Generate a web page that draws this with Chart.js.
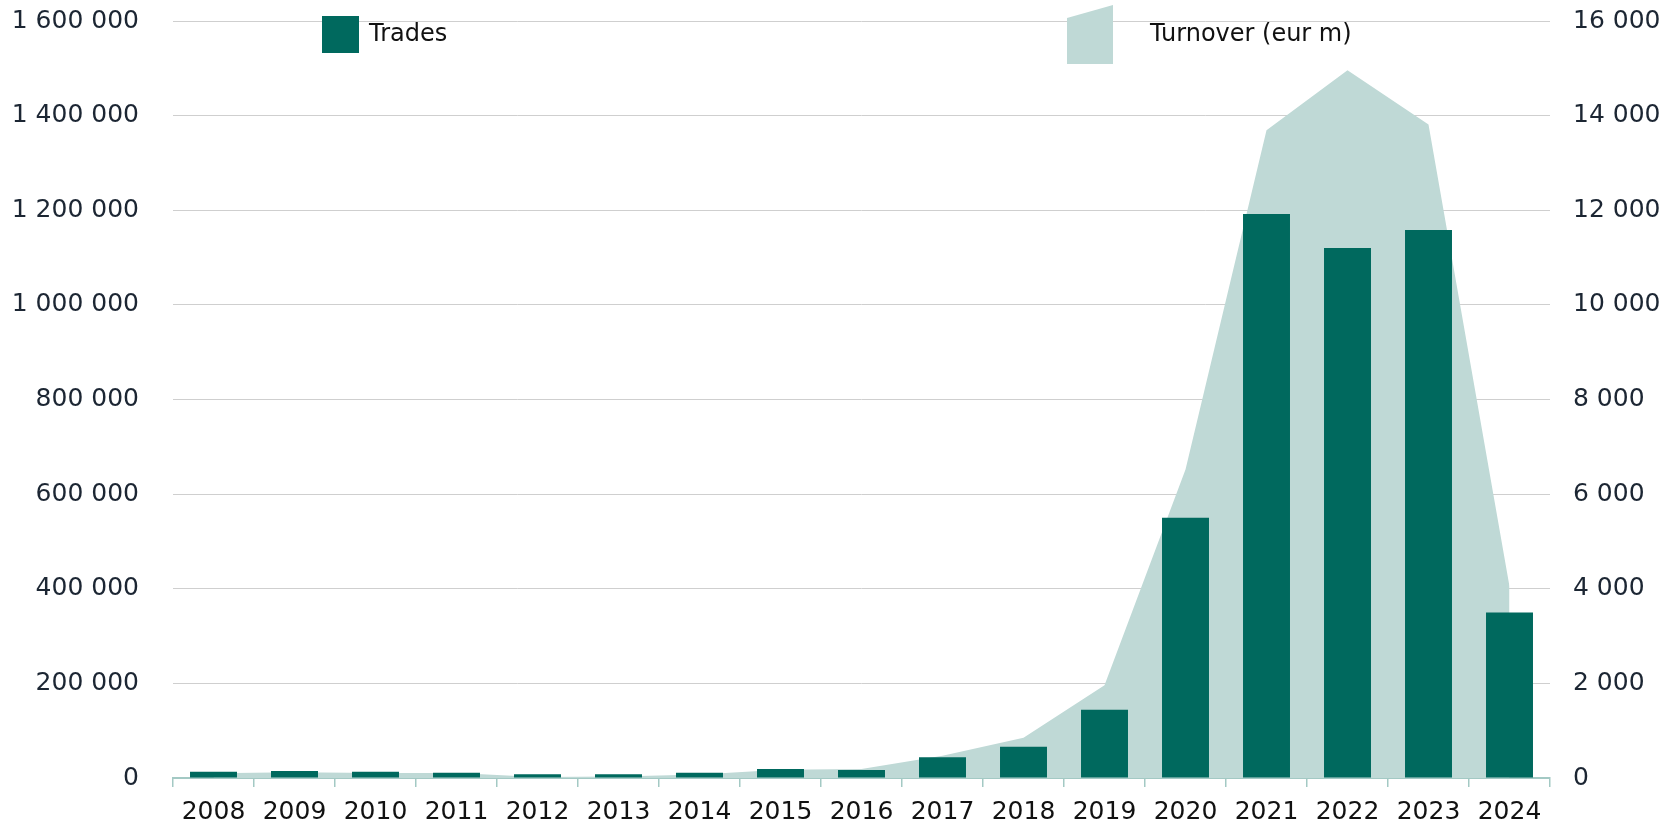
<!DOCTYPE html>
<html>
<head>
<meta charset="utf-8">
<script src="https://cdn.jsdelivr.net/npm/chart.js@4"></script>
<style>
  html, body { margin: 0; padding: 0; background: #ffffff; }
  #wrap { width: 1667px; height: 823px; position: relative; }
</style>
</head>
<body>
<div id="wrap"><canvas id="c" width="1667" height="823"></canvas></div>
<script>
const years = ['2008','2009','2010','2011','2012','2013','2014','2015','2016','2017','2018','2019','2020','2021','2022','2023','2024'];
const trades = [13000, 15000, 13000, 11000, 8000, 8000, 11000, 19000, 17000, 44000, 66000, 144000, 550000, 1192000, 1120000, 1158000, 350000];
const turnover = [100, 120, 105, 105, 20, 30, 75, 175, 190, 470, 850, 1960, 6520, 13690, 14960, 13810, 4050];
const leftTicks = [0, 200000, 400000, 600000, 800000, 1000000, 1200000, 1400000, 1600000];
const rightTicks = [0, 2000, 4000, 6000, 8000, 10000, 12000, 14000, 16000];
const legendLabels = ['Trades', 'Turnover (eur m)'];

const BAR = '#00695e';
const AREA = '#bfd9d6';
const AXIS = '#a3c9c4';
const GRID = '#cfcfcf';
const TEXT = '#1c2633';
const FONT = 'DejaVu Sans';
const FSIZE = 25;

function fmt(v) {
  return String(v).replace(/\B(?=(\d{3})+(?!\d))/g, ' ');
}

const legendPlugin = {
  id: 'customLegend',
  afterDraw(chart) {
    const ctx = chart.ctx;
    ctx.save();
    ctx.fillStyle = BAR;
    ctx.fillRect(322, 16, 37, 37);
    ctx.fillStyle = '#111111';
    ctx.font = '24px "' + FONT + '"';
    ctx.textBaseline = 'middle';
    ctx.textAlign = 'left';
    ctx.fillText(legendLabels[0], 369, 35);
    ctx.fillStyle = AREA;
    ctx.beginPath();
    ctx.moveTo(1067, 18);
    ctx.lineTo(1113, 5);
    ctx.lineTo(1113, 64);
    ctx.lineTo(1067, 64);
    ctx.closePath();
    ctx.fill();
    ctx.fillStyle = '#111111';
    ctx.fillText(legendLabels[1], 1150, 35);
    ctx.restore();
  }
};

function noPad(scale) {
  scale.paddingTop = 0;
  scale.paddingBottom = 0;
}

new Chart(document.getElementById('c'), {
  data: {
    labels: years,
    datasets: [
      {
        type: 'bar',
        label: legendLabels[0],
        data: trades,
        yAxisID: 'y',
        backgroundColor: BAR,
        borderWidth: 0,
        barPercentage: 0.58,
        categoryPercentage: 1.0,
        order: 1
      },
      {
        type: 'line',
        label: legendLabels[1],
        data: turnover,
        yAxisID: 'y1',
        backgroundColor: AREA,
        borderWidth: 0,
        borderColor: 'rgba(0,0,0,0)',
        pointRadius: 0,
        tension: 0,
        fill: 'origin',
        order: 2
      }
    ]
  },
  options: {
    responsive: false,
    animation: false,
    devicePixelRatio: 1,
    layout: { padding: { top: 21, left: 0, right: 0, bottom: 0 } },
    plugins: {
      legend: { display: false },
      tooltip: { enabled: false }
    },
    scales: {
      x: {
        offset: true,
        grid: {
          offset: true,
          drawOnChartArea: false,
          drawTicks: true,
          tickLength: 9,
          color: AXIS,
          lineWidth: 1.5
        },
        border: { display: true, color: AXIS, width: 2 },
        ticks: {
          color: '#111111',
          font: { family: FONT, size: FSIZE },
          padding: 10,
          maxRotation: 0,
          autoSkip: false
        },
        afterFit(scale) { scale.height = 45; scale.paddingLeft = 0; scale.paddingRight = 0; }
      },
      y: {
        position: 'left',
        min: 0,
        max: 1600000,
        afterBuildTicks(scale) { scale.ticks = leftTicks.map(v => ({ value: v })); },
        grid: { color: GRID, lineWidth: 1, drawTicks: false },
        border: { display: false },
        ticks: {
          color: TEXT,
          font: { family: FONT, size: FSIZE },
          padding: 34,
          callback: v => fmt(v)
        },
        afterFit(scale) { scale.width = 173; noPad(scale); }
      },
      y1: {
        position: 'right',
        min: 0,
        max: 16000,
        afterBuildTicks(scale) { scale.ticks = rightTicks.map(v => ({ value: v })); },
        grid: { drawOnChartArea: false, drawTicks: false },
        border: { display: false },
        ticks: {
          color: TEXT,
          font: { family: FONT, size: FSIZE },
          padding: 23,
          callback: v => fmt(v)
        },
        afterFit(scale) { scale.width = 117; noPad(scale); }
      }
    }
  },
  plugins: [legendPlugin]
});
</script>
</body>
</html>
